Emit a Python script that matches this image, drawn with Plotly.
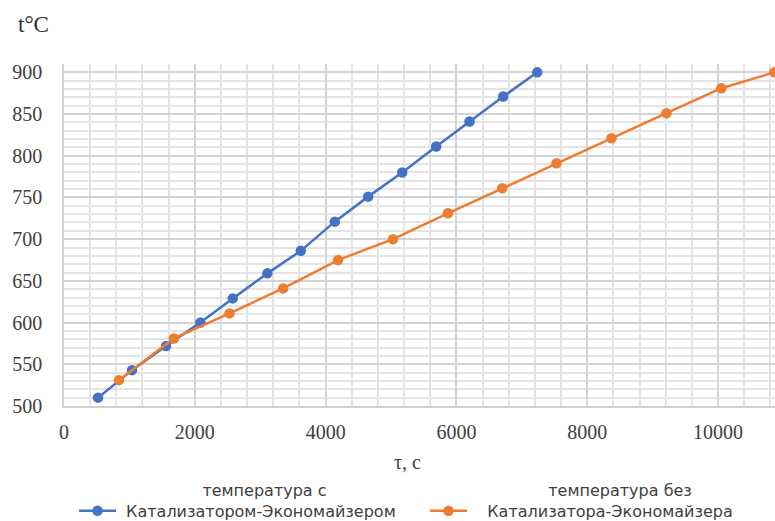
import plotly.graph_objects as go

# Data
time_with = [520, 1040, 1560, 2085, 2580, 3110, 3620, 4140, 4650, 5170, 5690, 6200, 6715, 7235]
temp_with = [510, 543, 572, 600, 629, 659, 686, 721, 751, 780, 811, 841, 871, 900]

time_without = [840, 1680, 2530, 3350, 4190, 5030, 5870, 6700, 7530, 8370, 9210, 10050, 10860]
temp_without = [531, 581, 611, 641, 675, 700, 731, 761, 791, 821, 851, 881, 900]

x_ticks = [0, 2000, 4000, 6000, 8000, 10000]
x_tick_labels = ["0", "2000", "4000", "6000", "8000", "10000"]
y_ticks = [500, 550, 600, 650, 700, 750, 800, 850, 900]

NB = "\u00a0"
name_with = NB * 16 + "температура с<br>" + NB + "Катализатором-Экономайзером"
name_without = NB * 15 + "температура без<br>" + NB * 3 + "Катализатора-Экономайзера"

BLUE = "#4472C4"
ORANGE = "#ED7D31"

fig = go.Figure()
fig.add_trace(go.Scatter(
    x=time_with, y=temp_with, mode="lines+markers", name=name_with,
    line=dict(color=BLUE, width=2.5), marker=dict(color=BLUE, size=10.5),
))
fig.add_trace(go.Scatter(
    x=time_without, y=temp_without, mode="lines+markers", name=name_without,
    line=dict(color=ORANGE, width=2.5), marker=dict(color=ORANGE, size=10.5),
))

tick_font = dict(family="Liberation Serif", size=20, color="#404040")

fig.update_xaxes(
    range=[0, 10870], tickvals=x_ticks, ticktext=x_tick_labels,
    showgrid=True, gridcolor="#d4d4d4", gridwidth=1.5,
    minor=dict(dtick=400, tick0=0, showgrid=True, gridcolor="#e4e4e4", gridwidth=1.5),
    showline=True, linecolor="#d0d0d0", linewidth=1.5, zeroline=False,
    tickfont=tick_font, ticks="", ticklabelstandoff=7,
)
fig.update_yaxes(
    range=[500, 910], tickvals=y_ticks, showgrid=True, gridcolor="#d4d4d4", gridwidth=1.5,
    minor=dict(dtick=10, tick0=500, showgrid=True, gridcolor="#e4e4e4", gridwidth=1.5),
    showline=True, linecolor="#d0d0d0", linewidth=1.5, zeroline=False,
    tickfont=tick_font, ticks="", ticklabelstandoff=16,
)

fig.add_annotation(text="t°C", xref="paper", yref="paper", x=(16 - 64) / 711, y=(406 - 24) / 342,
                   xanchor="left", yanchor="middle", showarrow=False,
                   font=dict(family="Liberation Serif", size=23, color="#333333"))
fig.add_annotation(text="τ, с", xref="paper", yref="paper", x=(407 - 64) / 711, y=-(462 - 406) / 342,
                   xanchor="center", yanchor="middle", showarrow=False,
                   font=dict(family="Liberation Serif", size=20, color="#404040"))

fig.update_layout(
    width=775, height=521,
    margin=dict(l=64, r=0, t=64, b=115, autoexpand=False),
    paper_bgcolor="white", plot_bgcolor="white",
    legend=dict(orientation="h", x=(74 - 64) / 711, y=-(528 - 406) / 342, xanchor="left", yanchor="bottom",
                font=dict(family="DejaVu Sans", size=16, color="#404040"),
                entrywidth=299, entrywidthmode="pixels", valign="bottom",
                itemwidth=37, tracegroupgap=0),
    showlegend=True,
)

fig.write_html("out.html", config={"displayModeBar": False},
               post_script="document.body.style.margin='0px';")
